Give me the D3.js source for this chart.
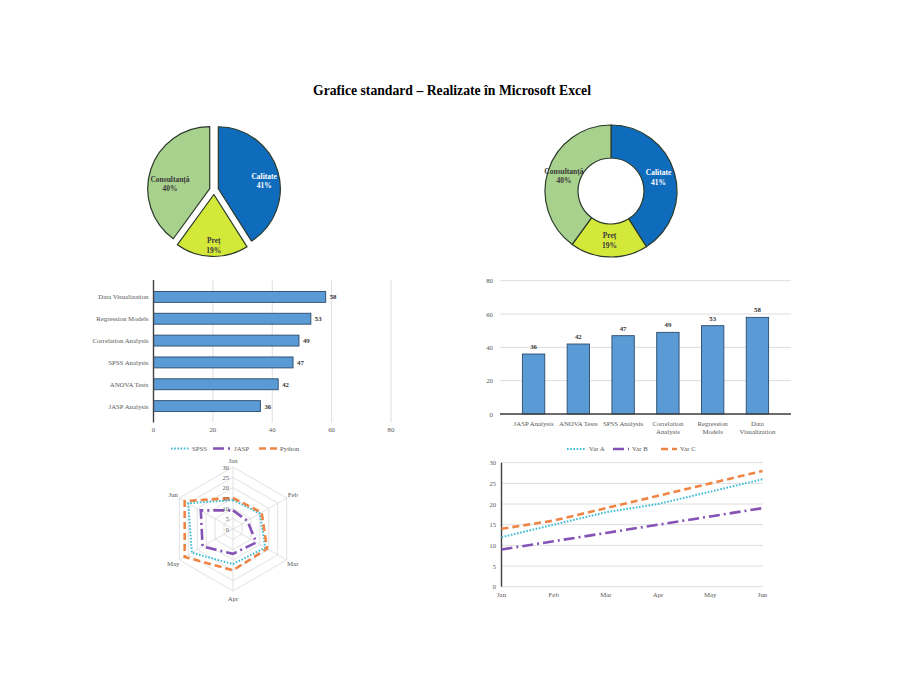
<!DOCTYPE html>
<html>
<head>
<meta charset="utf-8">
<script src="https://cdn.jsdelivr.net/npm/d3@7"></script>
<style>
  html, body { margin: 0; padding: 0; background: #ffffff; }
  svg { display: block; font-family: "Liberation Serif", "DejaVu Serif", serif; }
</style>
</head>
<body>
<svg id="chart" width="905" height="699"></svg>
<script>
// ---------------- DATA ----------------
const titleText = "Grafice standard – Realizate în Microsoft Excel";

const pieCategories = ["Calitate", "Preț", "Consultanță"];
const pieValues = [41, 19, 40];

const barCategories = ["JASP Analysis", "ANOVA Tests", "SPSS Analysis", "Correlation Analysis", "Regression Models", "Data Visualization"];
const barValues = [36, 42, 47, 49, 53, 58];
const barTicks = [0, 20, 40, 60, 80];

const months = ["Jan", "Feb", "Mar", "Apr", "May", "Jun"];
const radarSeriesNames = ["SPSS", "JASP", "Python"];
const radarSPSS = [14, 15, 18, 17, 23, 25];
const radarJASP = [9, 8, 13, 12, 17, 18];
const radarPython = [15, 16, 19, 20, 27, 27];
const radarTicks = [0, 5, 10, 15, 20, 25, 30];

const lineSeriesNames = ["Var A", "Var B", "Var C"];
const lineVarA = [12, 15, 18, 20, 23, 26];
const lineVarB = [9, 11, 13, 15, 17, 19];
const lineVarC = [14, 16, 19, 22, 25, 28];
const lineTicks = [0, 5, 10, 15, 20, 25, 30];

// ---------------- STYLE ----------------
const pieColors = ["#0F6CBD", "#D4E83A", "#A9D18E"];
const barFill = "#5B9BD5";
const barStroke = "#2B4A6B";
const gridColor = "#DEDEDE";
const axisDark = "#404040";
const labelGray = "#595959";
const seriesStyles = [
  { color: "#3EBCD6", dash: "1.6,1.6", width: 2 },
  { color: "#8552B5", dash: "11,4,2,4", width: 2.6 },
  { color: "#EE8545", dash: "7,4", width: 2.6 }
];

const svg = d3.select("#chart");

// ---------------- TITLE ----------------
svg.append("text")
  .attr("x", 452).attr("y", 95)
  .attr("text-anchor", "middle")
  .attr("font-size", 13.7).attr("font-weight", "bold")
  .attr("fill", "#000")
  .text(titleText);

// ---------------- PIE (exploded) ----------------
(function () {
  const cx = 214, cy = 190, R = 62, explode = 4.5;
  const pie = d3.pie().sort(null).value(d => d)(pieValues);
  const arc = d3.arc().innerRadius(0).outerRadius(R);
  const g = svg.append("g").attr("transform", `translate(${cx},${cy})`);
  // label placement (angle in degrees clockwise from top, radius in px)
  const labelLayout = [[79.5, 51], [180.3, 55.5], [278.4, 44.5]];
  pie.forEach((p, i) => {
    const mid = (p.startAngle + p.endAngle) / 2;
    const ox = Math.sin(mid) * explode, oy = -Math.cos(mid) * explode;
    g.append("path").attr("d", arc(p))
      .attr("transform", `translate(${ox},${oy})`)
      .attr("fill", pieColors[i]).attr("stroke", "#2a3a2a").attr("stroke-width", 1.2)
      .attr("stroke-linejoin", "round");
  });
  pie.forEach((p, i) => {
    const a = labelLayout[i][0] * Math.PI / 180, lr = labelLayout[i][1];
    const lx = Math.sin(a) * lr, ly = -Math.cos(a) * lr;
    const t = g.append("text").attr("text-anchor", "middle")
      .attr("font-size", 7.5).attr("font-weight", "bold")
      .attr("fill", i === 0 ? "#ffffff" : "#3a3a3a");
    t.append("tspan").attr("x", lx).attr("y", ly - 2).text(pieCategories[i]);
    t.append("tspan").attr("x", lx).attr("y", ly + 7.5).text(pieValues[i] + "%");
  });
})();

// ---------------- DONUT ----------------
(function () {
  const cx = 611, cy = 191, R = 66, r = 33;
  const pie = d3.pie().sort(null).value(d => d)(pieValues);
  const arc = d3.arc().innerRadius(r).outerRadius(R);
  const g = svg.append("g").attr("transform", `translate(${cx},${cy})`);
  pie.forEach((p, i) => {
    g.append("path").attr("d", arc(p))
      .attr("fill", pieColors[i]).attr("stroke", "#2a3a2a").attr("stroke-width", 1.2);
    const [lx, ly] = arc.centroid(p);
    const t = g.append("text").attr("text-anchor", "middle")
      .attr("font-size", 7.5).attr("font-weight", "bold")
      .attr("fill", i === 0 ? "#ffffff" : "#3a3a3a");
    t.append("tspan").attr("x", lx).attr("y", ly - 2).text(pieCategories[i]);
    t.append("tspan").attr("x", lx).attr("y", ly + 7.5).text(pieValues[i] + "%");
  });
})();

// ---------------- HORIZONTAL BAR ----------------
(function () {
  const x = d3.scaleLinear().domain([0, 80]).range([153.5, 391]);
  const y = d3.scaleBand().domain(barCategories.slice().reverse()).range([280.5, 422.5]).padding(0.5);
  const g = svg.append("g");
  g.selectAll(".vg").data(barTicks.slice(1)).enter().append("line")
    .attr("x1", d => x(d)).attr("x2", d => x(d))
    .attr("y1", 280).attr("y2", 422.5)
    .attr("stroke", gridColor).attr("stroke-width", 1);
  g.selectAll(".hb").data(barCategories).enter().append("rect")
    .attr("x", x(0)).attr("y", d => y(d))
    .attr("width", (d, i) => x(barValues[i]) - x(0))
    .attr("height", y.bandwidth())
    .attr("fill", barFill).attr("stroke", barStroke).attr("stroke-width", 0.9);
  g.selectAll(".hv").data(barCategories).enter().append("text")
    .attr("x", (d, i) => x(barValues[i]) + 4)
    .attr("y", d => y(d) + y.bandwidth() / 2 + 2.5)
    .attr("font-size", 6.8).attr("font-weight", "bold").attr("fill", "#333")
    .text((d, i) => barValues[i]);
  g.append("line").attr("x1", x(0)).attr("x2", x(0)).attr("y1", 280).attr("y2", 422.5)
    .attr("stroke", axisDark).attr("stroke-width", 1.4);
  g.selectAll(".hc").data(barCategories).enter().append("text")
    .attr("x", x(0) - 5).attr("y", d => y(d) + y.bandwidth() / 2 + 2.5)
    .attr("text-anchor", "end").attr("font-size", 6.8).attr("fill", labelGray)
    .text(d => d);
  g.selectAll(".ht").data(barTicks).enter().append("text")
    .attr("x", d => x(d)).attr("y", 432)
    .attr("text-anchor", "middle").attr("font-size", 6.8).attr("fill", labelGray)
    .text(d => d);
})();

// ---------------- VERTICAL BAR ----------------
(function () {
  const x = d3.scaleBand().domain(barCategories).range([500, 791]).padding(0.5);
  const y = d3.scaleLinear().domain([0, 80]).range([414, 280.7]);
  const g = svg.append("g");
  g.selectAll(".hg").data(barTicks).enter().append("line")
    .attr("x1", 500).attr("x2", 791)
    .attr("y1", d => y(d)).attr("y2", d => y(d))
    .attr("stroke", gridColor).attr("stroke-width", 1);
  g.selectAll(".vb").data(barCategories).enter().append("rect")
    .attr("x", d => x(d)).attr("y", (d, i) => y(barValues[i]))
    .attr("width", x.bandwidth())
    .attr("height", (d, i) => y(0) - y(barValues[i]))
    .attr("fill", barFill).attr("stroke", barStroke).attr("stroke-width", 0.9);
  g.selectAll(".vv").data(barCategories).enter().append("text")
    .attr("x", d => x(d) + x.bandwidth() / 2)
    .attr("y", (d, i) => y(barValues[i]) - 5)
    .attr("text-anchor", "middle").attr("font-size", 6.8).attr("font-weight", "bold").attr("fill", "#333")
    .text((d, i) => barValues[i]);
  g.append("line").attr("x1", 500).attr("x2", 791).attr("y1", y(0)).attr("y2", y(0))
    .attr("stroke", axisDark).attr("stroke-width", 1.4);
  g.selectAll(".vt").data(barTicks).enter().append("text")
    .attr("x", 493).attr("y", d => y(d) + 2.5)
    .attr("text-anchor", "end").attr("font-size", 6.8).attr("fill", labelGray)
    .text(d => d);
  barCategories.forEach(c => {
    const words = c.length > 13 ? [c.slice(0, c.indexOf(" ")), c.slice(c.indexOf(" ") + 1)] : [c];
    const t = g.append("text").attr("text-anchor", "middle").attr("font-size", 6.8).attr("fill", labelGray);
    words.forEach((w, k) => {
      t.append("tspan").attr("x", x(c) + x.bandwidth() / 2).attr("y", 425.5 + k * 8.5).text(w);
    });
  });
})();

// ---------------- LEGEND helper ----------------
function legend(names, positions, y) {
  names.forEach((n, i) => {
    const s = seriesStyles[i];
    const p = positions[i];
    svg.append("line").attr("x1", p[0]).attr("x2", p[1]).attr("y1", y).attr("y2", y)
      .attr("stroke", s.color).attr("stroke-width", s.width).attr("stroke-dasharray", s.dash);
    svg.append("text").attr("x", p[1] + 3).attr("y", y + 2.3)
      .attr("font-size", 6.8).attr("fill", labelGray).text(n);
  });
}

// ---------------- RADAR ----------------
(function () {
  const cx = 233, cy = 529, R = 62;
  const r = d3.scaleLinear().domain([0, 30]).range([0, R]);
  const ang = i => i * 2 * Math.PI / months.length;
  const g = svg.append("g").attr("transform", `translate(${cx},${cy})`);
  const gridLine = d3.lineRadial().curve(d3.curveLinearClosed);
  radarTicks.slice(1).forEach(t => {
    g.append("path").attr("d", gridLine(months.map((m, i) => [ang(i), r(t)])))
      .attr("fill", "none").attr("stroke", gridColor).attr("stroke-width", 0.9);
  });
  months.forEach((m, i) => {
    g.append("line").attr("x1", 0).attr("y1", 0)
      .attr("x2", Math.sin(ang(i)) * R).attr("y2", -Math.cos(ang(i)) * R)
      .attr("stroke", gridColor).attr("stroke-width", 0.9);
    const lr = R + 7;
    g.append("text").attr("x", Math.sin(ang(i)) * lr).attr("y", -Math.cos(ang(i)) * lr + 2.5)
      .attr("text-anchor", "middle").attr("font-size", 6.8).attr("fill", labelGray).text(m);
  });
  [radarSPSS, radarJASP, radarPython].forEach((vals, k) => {
    const s = seriesStyles[k];
    g.append("path").attr("d", gridLine(vals.map((v, i) => [ang(i), r(v)])))
      .attr("fill", "none").attr("stroke", s.color).attr("stroke-width", s.width)
      .attr("stroke-dasharray", s.dash);
  });
  radarTicks.forEach(t => {
    g.append("text").attr("x", -4).attr("y", -r(t) + 2.5)
      .attr("text-anchor", "end").attr("font-size", 6.5).attr("fill", labelGray).text(t);
  });
  legend(radarSeriesNames, [[171, 189], [213, 231], [259, 277]], 448.5);
})();

// ---------------- LINE CHART ----------------
(function () {
  const x = d3.scalePoint().domain(months).range([501.5, 762.5]);
  const y = d3.scaleLinear().domain([0, 30]).range([586.7, 462.7]);
  const g = svg.append("g");
  g.selectAll(".lg").data(lineTicks).enter().append("line")
    .attr("x1", 501).attr("x2", 763)
    .attr("y1", d => y(d)).attr("y2", d => y(d))
    .attr("stroke", gridColor).attr("stroke-width", 1);
  g.append("line").attr("x1", 501.5).attr("x2", 501.5).attr("y1", y(30)).attr("y2", y(0))
    .attr("stroke", axisDark).attr("stroke-width", 1.4);
  g.selectAll(".lt").data(lineTicks).enter().append("text")
    .attr("x", 496).attr("y", d => y(d) + 2.5)
    .attr("text-anchor", "end").attr("font-size", 6.5).attr("fill", labelGray).text(d => d);
  g.selectAll(".lx").data(months).enter().append("text")
    .attr("x", d => x(d)).attr("y", 597)
    .attr("text-anchor", "middle").attr("font-size", 6.8).attr("fill", labelGray).text(d => d);
  const line = d3.line().x((d, i) => x(months[i])).y(d => y(d));
  [lineVarA, lineVarB, lineVarC].forEach((vals, k) => {
    const s = seriesStyles[k];
    g.append("path").attr("d", line(vals))
      .attr("fill", "none").attr("stroke", s.color).attr("stroke-width", s.width)
      .attr("stroke-dasharray", s.dash);
  });
  legend(lineSeriesNames, [[567, 586], [613, 629], [661, 677]], 449);
})();
</script>
</body>
</html>
